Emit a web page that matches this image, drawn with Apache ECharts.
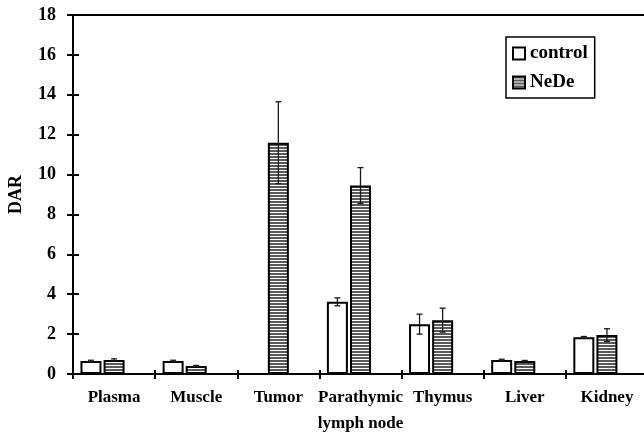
<!DOCTYPE html>
<html>
<head>
<meta charset="utf-8">
<script src="https://cdn.jsdelivr.net/npm/echarts@6/dist/echarts.min.js"></script>
<style>
html,body{margin:0;padding:0;background:#fff;}
#chart{width:644px;height:434px;}
</style>
</head>
<body>
<div id="chart"></div>
<script>
const categories = ['Plasma', 'Muscle', 'Tumor', 'Parathymic\nlymph node', 'Thymus', 'Liver', 'Kidney'];
const controlValues = [0.65, 0.65, null, 3.62, 2.5, 0.7, 1.84];
const controlErrors = [0.04, 0.04, null, 0.2, 0.5, 0.04, 0.04];
const nedeValues = [0.7, 0.4, 11.6, 9.45, 2.7, 0.65, 1.95];
const nedeErrors = [0.06, 0.03, 2.05, 0.9, 0.6, 0.03, 0.32];
const yTicks = [0, 2, 4, 6, 8, 10, 12, 14, 16, 18];

const FONT = '"Liberation Serif", "Times New Roman", serif';

// striped pattern fill
const pc = document.createElement('canvas');
pc.width = 4; pc.height = 3;
const pctx = pc.getContext('2d');
pctx.fillStyle = '#ffffff'; pctx.fillRect(0, 0, 4, 3);
pctx.fillStyle = '#5a5a5a'; pctx.fillRect(0, 0, 4, 2);
const stripe = { image: pc, repeat: 'repeat' };

const BAR_W = 21;
const GAP = 2.1;

function errData(vals, errs) {
  const out = [];
  vals.forEach((v, i) => { if (v != null && errs[i] != null) out.push([i, v, errs[i]]); });
  return out;
}

function errSeries(name, vals, errs, offset) {
  return {
    type: 'custom',
    name: name + '_err',
    xAxisIndex: 0, yAxisIndex: 0,
    z: 10,
    silent: true,
    data: errData(vals, errs),
    renderItem: function (params, api) {
      const c = api.value(0), v = api.value(1), e = api.value(2);
      const top = api.coord([c, v + e]);
      const bot = api.coord([c, v - e]);
      const x = top[0] + offset;
      const cap = 3;
      const st = { stroke: '#1a1a1a', lineWidth: 1.3 };
      return {
        type: 'group',
        children: [
          { type: 'line', shape: { x1: x, y1: top[1], x2: x, y2: bot[1] }, style: st },
          { type: 'line', shape: { x1: x - cap, y1: top[1], x2: x + cap, y2: top[1] }, style: st },
          { type: 'line', shape: { x1: x - cap, y1: bot[1], x2: x + cap, y2: bot[1] }, style: st }
        ]
      };
    }
  };
}

const chart = echarts.init(document.getElementById('chart'), null, { renderer: 'canvas' });
chart.setOption({
  animation: false,
  backgroundColor: '#fff',
  grid: { left: 73, top: 15, right: -4, bottom: 60, outerBoundsMode: 'none', containLabel: false,
    show: true, borderColor: '#000', borderWidth: 2, backgroundColor: 'transparent' },
  legend: {
    data: ['control', 'NeDe'],
    orient: 'vertical',
    left: 506, top: 37,
    padding: [7, 7, 6, 6],
    itemWidth: 12, itemHeight: 12,
    itemGap: 10,
    icon: 'rect',
    borderColor: '#000', borderWidth: 1.5,
    textStyle: { fontFamily: FONT, fontWeight: 'bold', fontSize: 19, color: '#000' }
  },
  xAxis: [
    {
      type: 'category', data: categories, position: 'bottom',
      axisLine: { lineStyle: { color: '#000', width: 2 } },
      axisTick: { show: true, inside: false, length: 5, lineStyle: { color: '#000', width: 2 } },
      axisLabel: { color: '#000', fontFamily: FONT, fontWeight: 'bold', fontSize: 17, margin: 11, lineHeight: 26, interval: 0 }
    },
    {
      type: 'category', data: categories, position: 'bottom',
      axisLine: { show: false },
      axisTick: { show: true, inside: true, length: 4, lineStyle: { color: '#000', width: 2 } },
      axisLabel: { show: false }
    }
  ],
  yAxis: [
    {
      type: 'value', min: 0, max: 18, interval: 2, position: 'left',
      name: 'DAR', nameLocation: 'middle', nameGap: 48,
      nameTextStyle: { color: '#000', fontFamily: FONT, fontWeight: 'bold', fontSize: 18 },
      splitLine: { show: false },
      axisLine: { show: true, lineStyle: { color: '#000', width: 2 } },
      axisTick: { show: true, inside: false, length: 6, lineStyle: { color: '#000', width: 2 } },
      axisLabel: { color: '#000', fontFamily: FONT, fontWeight: 'bold', fontSize: 18, margin: 17,
        formatter: function (v) { return yTicks.indexOf(v) >= 0 ? String(v) : ''; } }
    },
    {
      type: 'value', min: 0, max: 18, interval: 2, position: 'left',
      splitLine: { show: false },
      axisLine: { show: false },
      axisTick: { show: true, inside: true, length: 6, lineStyle: { color: '#000', width: 2 } },
      axisLabel: { show: false }
    }
  ],
  series: [
    {
      name: 'control', type: 'bar', xAxisIndex: 0, yAxisIndex: 0,
      data: controlValues, barWidth: BAR_W, barGap: '10%',
      itemStyle: { color: '#fff', borderColor: '#000', borderWidth: 2 }
    },
    {
      name: 'NeDe', type: 'bar', xAxisIndex: 0, yAxisIndex: 0,
      data: nedeValues, barWidth: BAR_W, barGap: '10%',
      itemStyle: { color: stripe, borderColor: '#000', borderWidth: 2 }
    },
    {
      name: 'spacer', type: 'bar', xAxisIndex: 0, yAxisIndex: 0,
      data: categories.map(() => null), barWidth: BAR_W, barGap: '10%',
      itemStyle: { color: 'transparent' }
    },
    errSeries('control', controlValues, controlErrors, -(BAR_W + GAP)),
    errSeries('NeDe', nedeValues, nedeErrors, 0)
  ]
});
</script>
</body>
</html>
